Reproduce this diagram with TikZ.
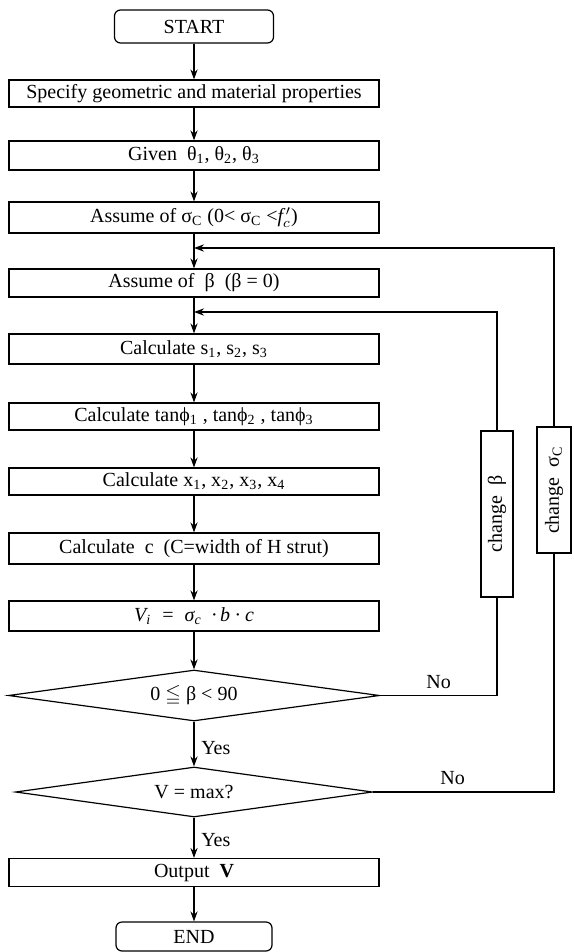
\documentclass[tikz,border=0pt]{standalone}
\usepackage{fontspec}
\usepackage{amssymb}
\setmainfont{Liberation Serif}
\usetikzlibrary{shapes.geometric,arrows.meta}

\begin{document}
\begin{tikzpicture}[x=0.5pt, y=-0.5pt, >={Stealth[length=5pt,width=3.6pt]},
    line width=0.6pt, font=\fontsize{10}{12}\selectfont,
    box/.style={draw, minimum width=185pt, inner sep=0pt},
    term/.style={draw, rounded corners=3pt, inner sep=0pt},
    test/.style={draw, diamond, inner sep=0pt},
    side/.style={draw, inner sep=0pt}]
  \useasboundingbox (0,0) rectangle (573,952);

  \node[term, minimum width=79.5pt, minimum height=16.5pt] (start) at (194,26.5) {START};
  \node[box, minimum height=13.5pt] (spec) at (194,93.5) {Specify geometric and material properties};
  \node[box, minimum height=14.5pt] (given) at (194,155.5) {Given~ θ\textsubscript{1}, θ\textsubscript{2}, θ\textsubscript{3}};
  \node[box, minimum height=15.5pt] (asig) at (194,217.5) {Assume of σ\textsubscript{C} (0< σ\textsubscript{C} <\textit{f}$'_{\!c}$)};
  \node[box, minimum height=14pt] (abeta) at (194,283) {Assume of~ β~ (β = 0)};
  \node[box, minimum height=15pt] (calcs) at (194,349) {Calculate s\textsubscript{1}, s\textsubscript{2}, s\textsubscript{3}};
  \node[box, minimum height=13.5pt] (tanp) at (194,416.5) {Calculate tanϕ\textsubscript{1} , tanϕ\textsubscript{2} , tanϕ\textsubscript{3}};
  \node[box, minimum height=13.5pt] (calcx) at (194,481.5) {Calculate x\textsubscript{1}, x\textsubscript{2}, x\textsubscript{3}, x\textsubscript{4}};
  \node[box, minimum height=15.5pt] (calcc) at (194,548.5) {Calculate~ c~ (C=width of H strut)};
  \node[box, minimum height=15pt] (vi) at (194,616) {\textit{V\textsubscript{i}~ = ~σ\textsubscript{c} ~·\,b~·~c}};
  \node[test, aspect=7.27, minimum width=185.5pt, minimum height=25.5pt] (d1) at (194,695.5) {0 $\leqq$ β < 90};
  \node[test, aspect=7.14, minimum width=178.5pt, minimum height=25pt] (d2) at (194,792) {V = max?};
  \node[box, minimum height=14pt] (out) at (194,872.5) {Output~ \textbf{V}};
  \node[term, minimum width=78pt, minimum height=14.5pt] (end) at (194,936.5) {END};

  \node[side, minimum width=16pt, minimum height=83pt] (cb) at (497,514) {\rotatebox{90}{change~ β}};
  \node[side, minimum width=17pt, minimum height=63pt] (cs) at (554,490) {\rotatebox{90}{change~ σ\textsubscript{C}}};

  \coordinate (js) at (194,248);
  \coordinate (jb) at (194,312);

  \draw[->] (start) -- (spec);
  \draw[->] (spec) -- (given);
  \draw[->] (given) -- (asig);
  \draw[->] (asig) -- (abeta);
  \draw[->] (abeta) -- (calcs);
  \draw[->] (calcs) -- (tanp);
  \draw[->] (tanp) -- (calcx);
  \draw[->] (calcx) -- (calcc);
  \draw[->] (calcc) -- (vi);
  \draw[->] (vi) -- (d1);
  \draw[->] (d1) -- (d2) node[pos=0.6, right] (yes1) {Yes};
  \draw[->] (d2) -- (out) node[pos=0.55, right] (yes2) {Yes};
  \draw[->] (out) -- (end);

  \draw (d1.east) -| (cb.south) node[pos=0.25, above] (no1) {No};
  \draw[->] (cb.north) |- (jb);
  \draw (d2.east) -| (cs.south) node[pos=0.22, above] (no2) {No};
  \draw[->] (cs.north) |- (js);
\end{tikzpicture}
\end{document}
